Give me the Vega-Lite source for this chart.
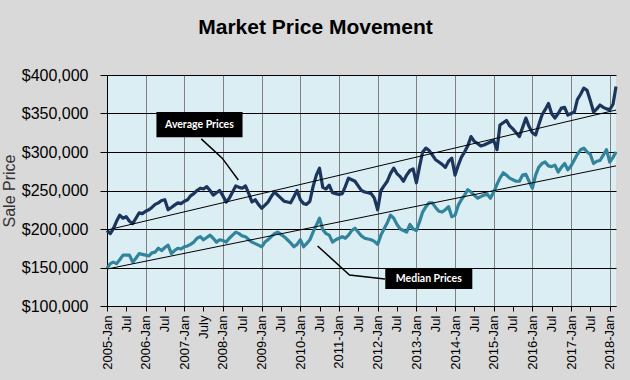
{
"$schema": "https://vega.github.io/schema/vega-lite/v6.json",
"width": 509, "height": 231,
"autosize": "none",
"padding": {"left": 107, "top": 75, "right": 14, "bottom": 74},
"background": "#d9d9d9",
"title": {"text": "Market Price Movement", "font": "Liberation Sans", "fontSize": 21, "fontWeight": "bold", "color": "black", "anchor": "middle", "frame": "group", "dx": -46, "offset": 29},
"config": {"view": {"fill": "#dbeef4", "stroke": null}},
"datasets": {
"prices": [
{"date":"2005-01","avg":198000,"med":149000},{"date":"2005-02","avg":194000,"med":155000},{"date":"2005-03","avg":200000,"med":157000},{"date":"2005-04","avg":210000,"med":155000},{"date":"2005-05","avg":218000,"med":160000},{"date":"2005-06","avg":214000,"med":166000},{"date":"2005-07","avg":216000,"med":166000},{"date":"2005-08","avg":210000,"med":166000},{"date":"2005-09","avg":207000,"med":157000},{"date":"2005-10","avg":214000,"med":162000},{"date":"2005-11","avg":221000,"med":168000},{"date":"2005-12","avg":220000,"med":167000},
{"date":"2006-01","avg":223000,"med":166000},{"date":"2006-02","avg":225000,"med":165000},{"date":"2006-03","avg":228000,"med":169000},{"date":"2006-04","avg":232000,"med":170000},{"date":"2006-05","avg":234000,"med":175000},{"date":"2006-06","avg":237000,"med":172000},{"date":"2006-07","avg":238000,"med":176000},{"date":"2006-08","avg":225000,"med":179000},{"date":"2006-09","avg":228000,"med":168000},{"date":"2006-10","avg":231000,"med":172000},{"date":"2006-11","avg":234000,"med":175000},{"date":"2006-12","avg":233000,"med":174000},
{"date":"2007-01","avg":236000,"med":177000},{"date":"2007-02","avg":238000,"med":178000},{"date":"2007-03","avg":243000,"med":180000},{"date":"2007-04","avg":246000,"med":183000},{"date":"2007-05","avg":250000,"med":188000},{"date":"2007-06","avg":253000,"med":190000},{"date":"2007-07","avg":252000,"med":186000},{"date":"2007-08","avg":255000,"med":189000},{"date":"2007-09","avg":250000,"med":192000},{"date":"2007-10","avg":244000,"med":188000},{"date":"2007-11","avg":247000,"med":183000},{"date":"2007-12","avg":250000,"med":186000},
{"date":"2008-01","avg":243000,"med":185000},{"date":"2008-02","avg":235000,"med":183000},{"date":"2008-03","avg":240000,"med":188000},{"date":"2008-04","avg":248000,"med":192000},{"date":"2008-05","avg":256000,"med":196000},{"date":"2008-06","avg":254000,"med":194000},{"date":"2008-07","avg":253000,"med":191000},{"date":"2008-08","avg":256000,"med":190000},{"date":"2008-09","avg":246000,"med":186000},{"date":"2008-10","avg":235000,"med":183000},{"date":"2008-11","avg":238000,"med":181000},{"date":"2008-12","avg":232000,"med":179000},
{"date":"2009-01","avg":227000,"med":177000},{"date":"2009-02","avg":231000,"med":183000},{"date":"2009-03","avg":235000,"med":186000},{"date":"2009-04","avg":242000,"med":190000},{"date":"2009-05","avg":248000,"med":194000},{"date":"2009-06","avg":244000,"med":196000},{"date":"2009-07","avg":240000,"med":193000},{"date":"2009-08","avg":236000,"med":190000},{"date":"2009-09","avg":235000,"med":186000},{"date":"2009-10","avg":234000,"med":182000},{"date":"2009-11","avg":242000,"med":177000},{"date":"2009-12","avg":250000,"med":180000},
{"date":"2010-01","avg":238000,"med":186000},{"date":"2010-02","avg":233000,"med":177000},{"date":"2010-03","avg":232000,"med":181000},{"date":"2010-04","avg":236000,"med":186000},{"date":"2010-05","avg":255000,"med":196000},{"date":"2010-06","avg":270000,"med":205000},{"date":"2010-07","avg":279000,"med":214000},{"date":"2010-08","avg":254000,"med":199000},{"date":"2010-09","avg":252000,"med":194000},{"date":"2010-10","avg":257000,"med":192000},{"date":"2010-11","avg":247000,"med":183000},{"date":"2010-12","avg":246000,"med":186000},
{"date":"2011-01","avg":245000,"med":188000},{"date":"2011-02","avg":246000,"med":190000},{"date":"2011-03","avg":255000,"med":188000},{"date":"2011-04","avg":266000,"med":192000},{"date":"2011-05","avg":264000,"med":198000},{"date":"2011-06","avg":262000,"med":201000},{"date":"2011-07","avg":256000,"med":196000},{"date":"2011-08","avg":250000,"med":191000},{"date":"2011-09","avg":248000,"med":188000},{"date":"2011-10","avg":247000,"med":187000},{"date":"2011-11","avg":246000,"med":186000},{"date":"2011-12","avg":240000,"med":184000},
{"date":"2012-01","avg":225000,"med":180000},{"date":"2012-02","avg":250000,"med":192000},{"date":"2012-03","avg":256000,"med":200000},{"date":"2012-04","avg":262000,"med":208000},{"date":"2012-05","avg":272000,"med":218000},{"date":"2012-06","avg":279000,"med":214000},{"date":"2012-07","avg":272000,"med":206000},{"date":"2012-08","avg":268000,"med":200000},{"date":"2012-09","avg":262000,"med":198000},{"date":"2012-10","avg":270000,"med":196000},{"date":"2012-11","avg":276000,"med":206000},{"date":"2012-12","avg":278000,"med":200000},
{"date":"2013-01","avg":260000,"med":198000},{"date":"2013-02","avg":282000,"med":210000},{"date":"2013-03","avg":300000,"med":222000},{"date":"2013-04","avg":305000,"med":229000},{"date":"2013-05","avg":302000,"med":234000},{"date":"2013-06","avg":296000,"med":234000},{"date":"2013-07","avg":290000,"med":228000},{"date":"2013-08","avg":287000,"med":223000},{"date":"2013-09","avg":284000,"med":222000},{"date":"2013-10","avg":280000,"med":225000},{"date":"2013-11","avg":288000,"med":229000},{"date":"2013-12","avg":292000,"med":216000},
{"date":"2014-01","avg":270000,"med":218000},{"date":"2014-02","avg":283000,"med":231000},{"date":"2014-03","avg":293000,"med":238000},{"date":"2014-04","avg":300000,"med":244000},{"date":"2014-05","avg":308000,"med":251000},{"date":"2014-06","avg":320000,"med":248000},{"date":"2014-07","avg":314000,"med":244000},{"date":"2014-08","avg":311000,"med":240000},{"date":"2014-09","avg":308000,"med":242000},{"date":"2014-10","avg":309000,"med":244000},{"date":"2014-11","avg":311000,"med":245000},{"date":"2014-12","avg":313000,"med":240000},
{"date":"2015-01","avg":315000,"med":248000},{"date":"2015-02","avg":303000,"med":258000},{"date":"2015-03","avg":335000,"med":266000},{"date":"2015-04","avg":338000,"med":273000},{"date":"2015-05","avg":341000,"med":270000},{"date":"2015-06","avg":334000,"med":266000},{"date":"2015-07","avg":330000,"med":264000},{"date":"2015-08","avg":325000,"med":262000},{"date":"2015-09","avg":320000,"med":262000},{"date":"2015-10","avg":332000,"med":270000},{"date":"2015-11","avg":344000,"med":271000},{"date":"2015-12","avg":333000,"med":262000},
{"date":"2016-01","avg":325000,"med":253000},{"date":"2016-02","avg":322000,"med":270000},{"date":"2016-03","avg":335000,"med":280000},{"date":"2016-04","avg":348000,"med":285000},{"date":"2016-05","avg":355000,"med":287000},{"date":"2016-06","avg":363000,"med":282000},{"date":"2016-07","avg":350000,"med":281000},{"date":"2016-08","avg":344000,"med":283000},{"date":"2016-09","avg":350000,"med":274000},{"date":"2016-10","avg":357000,"med":280000},{"date":"2016-11","avg":358000,"med":285000},{"date":"2016-12","avg":348000,"med":277000},
{"date":"2017-01","avg":350000,"med":282000},{"date":"2017-02","avg":352000,"med":290000},{"date":"2017-03","avg":368000,"med":297000},{"date":"2017-04","avg":375000,"med":303000},{"date":"2017-05","avg":383000,"med":305000},{"date":"2017-06","avg":380000,"med":300000},{"date":"2017-07","avg":367000,"med":297000},{"date":"2017-08","avg":352000,"med":285000},{"date":"2017-09","avg":356000,"med":288000},{"date":"2017-10","avg":361000,"med":289000},{"date":"2017-11","avg":358000,"med":296000},{"date":"2017-12","avg":356000,"med":303000},
{"date":"2018-01","avg":355000,"med":287000},{"date":"2018-02","avg":362000,"med":293000},{"date":"2018-03","avg":385000,"med":300000}
],
"trends": [
{"date":"2005-01","price":198600,"trend":"Average"},{"date":"2018-03","price":354500,"trend":"Average"},
{"date":"2005-01","price":148000,"trend":"Median"},{"date":"2018-03","price":282000,"trend":"Median"}
],
"leaders": [
{"date":"2007-06-10","price":317000,"grp":"a","ord":1},{"date":"2007-12-25","price":292000,"grp":"a","ord":2},{"date":"2008-05-25","price":263600,"grp":"a","ord":3},
{"date":"2010-06-13","price":178000,"grp":"m","ord":1},{"date":"2011-04-10","price":140200,"grp":"m","ord":2},{"date":"2012-03-10","price":135000,"grp":"m","ord":3}
],
"boxes": [
{"date":"2006-04-13","date2":"2008-07-04","price":319000,"price2":352000},
{"date":"2012-03-13","date2":"2014-06-13","price":122000,"price2":149300}
],
"labels": [
{"date":"2007-05-24","price":335500,"label":"Average Prices"},
{"date":"2013-04-28","price":135600,"label":"Median Prices"}
]
},
"encoding": {
"x": {"field": "date", "type": "temporal", "title": null,
"scale": {"type": "utc", "domain": [{"year": 2005, "month": 1, "date": 1, "utc": true}, {"year": 2018, "month": 3, "date": 1, "utc": true}], "nice": false},
"axis": {"title": null, "tickCount": {"interval": "month", "step": 6},
"labelExpr": "utcmonth(datum.value)==0 ? utcFormat(datum.value, '%Y-%b') : (utcyear(datum.value)==2007 ? 'July' : 'Jul')",
"labelAngle": 270, "labelAlign": "right", "labelBaseline": "middle", "labelFont": "Liberation Sans", "labelFontSize": 13, "labelColor": "black", "labelPadding": 4, "labelOverlap": false, "labelFlush": false,
"tickSize": 5, "tickColor": "black", "domainColor": "black",
"gridColor": "#808080", "gridOpacity": {"condition": {"test": "utcmonth(datum.value)==0", "value": 1}, "value": 0}}},
"y": {"field": "price", "type": "quantitative", "title": "Sale Price",
"scale": {"domain": [100000, 400000], "nice": false, "zero": false},
"axis": {"values": [100000, 150000, 200000, 250000, 300000, 350000, 400000], "format": "$,.0f", "labelOverlap": false,
"labelFont": "Liberation Sans", "labelFontSize": 16, "labelColor": "black", "labelPadding": 12,
"tickSize": 7, "tickColor": "black", "domainColor": "black", "gridColor": "black", "gridOpacity": 1,
"titleFont": "Liberation Sans", "titleFontSize": 16, "titleFontWeight": "normal", "titleColor": "#333333", "titlePadding": 4}}
},
"layer": [
{
"data": {"name": "prices"},
"transform": [{"fold": ["med", "avg"], "as": ["series", "price"]}],
"mark": {"type": "line", "strokeWidth": 3.2, "strokeJoin": "round"},
"encoding": {
"color": {"field": "series", "type": "nominal", "scale": {"domain": ["avg", "med"], "range": ["#1c355c", "#31849b"]}, "legend": null}
}
},
{
"data": {"name": "trends"},
"mark": {"type": "line", "color": "black", "strokeWidth": 1},
"encoding": {"detail": {"field": "trend"}}
},
{
"data": {"name": "leaders"},
"mark": {"type": "line", "color": "black", "strokeWidth": 1.5},
"encoding": {"detail": {"field": "grp"}, "order": {"field": "ord"}}
},
{
"data": {"name": "boxes"},
"mark": {"type": "rect", "color": "black"},
"encoding": {"x2": {"field": "date2"}, "y2": {"field": "price2"}}
},
{
"data": {"name": "labels"},
"mark": {"type": "text", "color": "white", "font": "Lato", "fontWeight": "bold", "fontSize": 10.5, "align": "center", "baseline": "middle"},
"encoding": {"text": {"field": "label"}}
}
]
}
